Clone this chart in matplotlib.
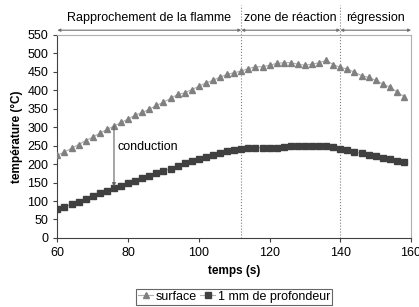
import matplotlib
matplotlib.use("Agg")
import matplotlib.pyplot as plt

# --- données ---
temps = list(range(60, 160, 2))
surface = [224, 233, 243, 253, 264, 273, 284, 294, 303, 313,
           322, 333, 340, 349, 359, 368, 378, 389, 393, 402,
           411, 420, 427, 436, 443, 448, 452, 459, 464, 464,
           468, 473, 475, 475, 471, 468, 471, 475, 481, 470,
           462, 458, 449, 440, 435, 427, 417, 409, 396, 383]
profondeur = [78, 85, 91, 98, 105, 114, 121, 128, 136, 141,
              148, 155, 162, 169, 176, 182, 188, 196, 202, 208,
              214, 220, 226, 231, 235, 238, 241, 243, 244, 245,
              244, 245, 246, 248, 248, 249, 249, 249, 248, 246,
              241, 237, 233, 229, 225, 221, 217, 213, 208, 205]
zones = ["Rapprochement de la flamme", "zone de réaction", "régression"]
limites = [60, 112, 140, 160]

plt.rcParams['font.family'] = ['Liberation Sans', 'DejaVu Sans']
plt.rcParams['font.size'] = 9

fig = plt.figure(figsize=(4.19, 3.07), dpi=100)
ax = fig.add_axes([0.137, 0.225, 0.844, 0.661])

ax.plot(temps, surface, color='#b0b0b0', lw=0.8, marker='^', ms=4,
        mfc='#808080', mec='#808080', label='surface', zorder=3)
ax.plot(temps, profondeur, color='#b0b0b0', lw=0.8, marker='s', ms=4,
        mfc='#404040', mec='#404040', label='1 mm de profondeur', zorder=3)

ax.set_xlim(60, 160)
ax.set_ylim(0, 550)
ax.set_xticks(range(60, 161, 20))
ax.set_yticks(range(0, 551, 50))
ax.tick_params(direction='out', length=3, width=0.8, color='#404040', labelsize=9)
for cote in ['top', 'right']:
    ax.spines[cote].set_color('#b0b0b0')
for cote in ['left', 'bottom']:
    ax.spines[cote].set_color('#404040')

ax.set_xlabel('temps (s)', fontweight='bold', fontsize=8.5)
ax.set_ylabel('température (°C)', fontweight='bold', fontsize=8.5, labelpad=3)

# lignes verticales des zones (débordent au-dessus du cadre)
for xl in limites[1:3]:
    ax.plot([xl, xl], [0, 632], color='#808080', lw=0.8, ls=':',
            clip_on=False, zorder=2)

# flèches et libellés des zones
y_fl = 563
for i, nom in enumerate(zones):
    a, b = limites[i], limites[i + 1]
    ax.annotate('', xy=(b, y_fl), xytext=(a, y_fl), xycoords='data',
                arrowprops=dict(arrowstyle='<|-|>', color='#707070', lw=0.8,
                                mutation_scale=4, shrinkA=0, shrinkB=0),
                annotation_clip=False)
    ax.text((a + b) / 2, 596, nom, ha='center', va='center', fontsize=9)

# conduction
i76 = temps.index(76)
ax.annotate('', xy=(76, profondeur[i76] + 3), xytext=(76, surface[i76]),
            arrowprops=dict(arrowstyle='-|>', color='#606060', lw=0.8,
                            mutation_scale=5, shrinkA=0, shrinkB=0))
ax.text(77, 246, 'conduction', ha='left', va='center', fontsize=9)

leg = fig.legend(loc='center', bbox_to_anchor=(0.559, 0.033), ncol=2,
                 frameon=True, fancybox=False, edgecolor='#404040',
                 handlelength=1.2, handletextpad=0.2, columnspacing=0.3,
                 borderpad=0.15, fontsize=9)
leg.get_frame().set_linewidth(0.8)

fig.savefig('out.png', dpi=100)
